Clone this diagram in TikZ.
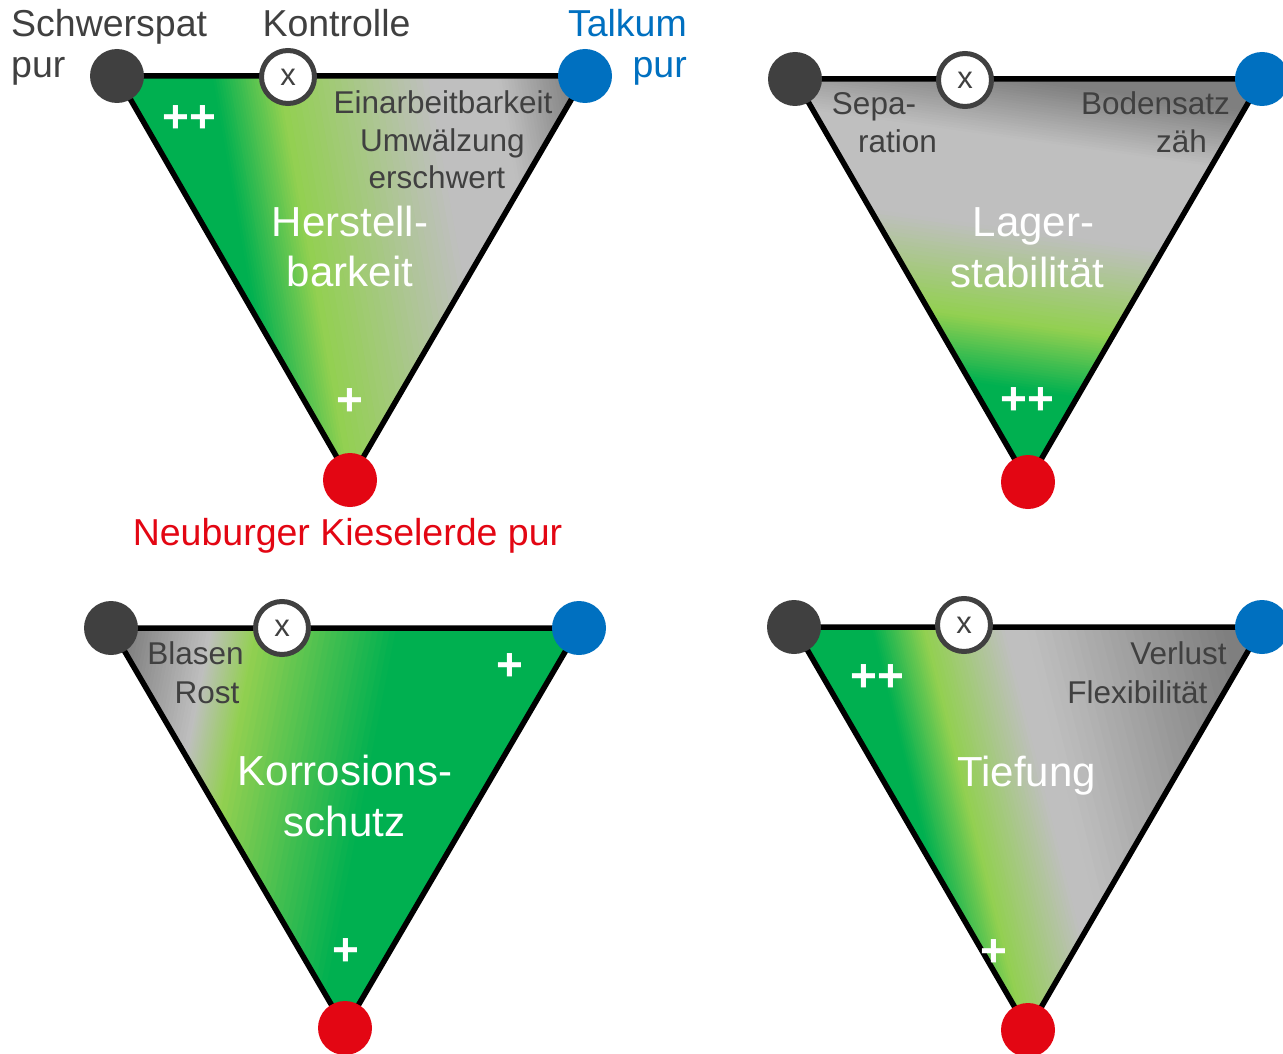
\documentclass[tikz,border=0pt]{standalone}
\usepackage{fontspec}
\setmainfont{Liberation Sans}
\definecolor{cDG}{HTML}{00B050}
\definecolor{cLG}{HTML}{92D050}
\definecolor{cGR}{HTML}{BFBFBF}
\definecolor{cDK}{HTML}{7F7F7F}
\definecolor{cTxt}{HTML}{404040}
\definecolor{cDot}{HTML}{404040}
\definecolor{cBlue}{HTML}{0070C0}
\definecolor{cRed}{HTML}{E30613}
% gradient fill of triangle #1: origin #2, angle #3, first colour #4, stops #5, last t #6, last colour #7
\newcommand\gradtri[7]{%
  \begin{scope}
    \clip (D#1) -- (B#1) -- (R#1) -- cycle;
    \fill[#4] (D#1) -- (B#1) -- (R#1) -- cycle;
    \begin{scope}[shift={#2}, rotate=#3]
      \foreach \ta/\ca/\tb/\cb in {#5}{%
        \foreach \k in {0,...,23}{%
          \pgfmathsetmacro\tlo{\ta+(\tb-\ta)*\k/24}%
          \pgfmathsetmacro\thi{\ta+(\tb-\ta)*(\k+1)/24+1}%
          \pgfmathtruncatemacro\pc{100*(\k+0.5)/24}%
          \fill[\cb!\pc!\ca] (\tlo,-900) rectangle (\thi,900);
        }%
      }%
      \fill[#7] (#6,-900) rectangle (1500,900);
    \end{scope}
  \end{scope}}
\begin{document}
\begin{tikzpicture}[x=1pt,y=-1pt,
  edge/.style={draw=black,line width=5.5pt,line join=round},
  dotdark/.style={circle,fill=cDot,minimum size=54pt,inner sep=0pt},
  dotblue/.style={circle,fill=cBlue,minimum size=54pt,inner sep=0pt},
  dotred/.style={circle,fill=cRed,minimum size=54pt,inner sep=0pt},
  ctrl/.style={circle,draw=cDot,line width=5pt,fill=white,minimum size=53pt,inner sep=0pt,
    text=cTxt,font=\fontsize{31}{36}\selectfont},
  lbl/.style={inner sep=0pt,font=\fontsize{37.5}{42}\selectfont},
  desc/.style={inner sep=0pt,text=cTxt,font=\fontsize{31.5}{38}\selectfont},
  big/.style={inner sep=0pt,text=white,font=\fontsize{42}{50}\selectfont},
  plus/.style={inner sep=0pt,text=white,font=\fontsize{46}{50}\selectfont\bfseries}]
\fill[white] (0,0) rectangle (1283,1054);
\useasboundingbox (0,0) rectangle (1283,1054);

% corners
\coordinate (D1) at (117,76);  \coordinate (B1) at (585,76);  \coordinate (R1) at (350,480);
\coordinate (D2) at (795,79);  \coordinate (B2) at (1262,79); \coordinate (R2) at (1028,482);
\coordinate (D3) at (111,628); \coordinate (B3) at (579,628); \coordinate (R3) at (345,1028);
\coordinate (D4) at (794,627); \coordinate (B4) at (1262,627);\coordinate (R4) at (1028,1030);

% gradients
\gradtri{1}{(215,90)}{10}{cDG}{0/cDG/64/cLG, 64/cLG/212/cGR, 212/cGR/281/cGR, 281/cGR/355/cDK}{355}{cDK}
\gradtri{2}{(1030,80)}{-98}{cDK}{0/cDK/60/cGR, 60/cGR/150/cGR, 150/cGR/243/cLG, 243/cLG/307/cDG}{307}{cDG}
\gradtri{3}{(125,650)}{-11}{cDK}{0/cDK/80/cGR, 80/cGR/125/cLG, 125/cLG/262/cDG}{262}{cDG}
\gradtri{4}{(880,660)}{14}{cDG}{0/cDG/50/cLG, 50/cLG/128/cGR, 128/cGR/150/cGR, 150/cGR/340/cDK}{340}{cDK}

% edges
\draw[edge] (D1) -- (B1) -- (R1) -- cycle;
\draw[edge] (D2) -- (B2) -- (R2) -- cycle;
\draw[edge] (D3) -- (B3) -- (R3) -- cycle;
\draw[edge] (D4) -- (B4) -- (R4) -- cycle;

% corner dots and control circles
\node[dotdark] (d1) at (D1) {}; \node[dotblue] (b1) at (B1) {}; \node[dotred] (r1) at (R1) {};
\node[dotdark] (d2) at (D2) {}; \node[dotblue] (b2) at (B2) {}; \node[dotred] (r2) at (R2) {};
\node[dotdark] (d3) at (D3) {}; \node[dotblue] (b3) at (B3) {}; \node[dotred] (r3) at (R3) {};
\node[dotdark] (d4) at (D4) {}; \node[dotblue] (b4) at (B4) {}; \node[dotred] (r4) at (R4) {};
\node[ctrl] (x1) at (288,77) {x};
\node[ctrl] (x2) at (965,80) {x};
\node[ctrl] (x3) at (282,628) {x};
\node[ctrl] (x4) at (964,625) {x};

% legend labels
\node[lbl,text=cTxt,anchor=base west] (schA) at (11,36.5) {Schwerspat};
\node[lbl,text=cTxt,anchor=base west] (schB) at (11,78) {pur};
\node[lbl,text=cTxt,anchor=base] (kon) at (336.5,36.5) {Kontrolle};
\node[lbl,text=cBlue,anchor=base east] (talA) at (687,36.5) {Talkum};
\node[lbl,text=cBlue,anchor=base east] (talB) at (687,78) {pur};
\node[lbl,text=cRed,anchor=base] (neu) at (347.5,545) {Neuburger Kieselerde pur};

% triangle 1
\node[desc,anchor=base] (t1a) at (443,113.5) {Einarbeitbarkeit};
\node[desc,anchor=base] (t1b) at (442.5,152) {Umwälzung};
\node[desc,anchor=base] (t1c) at (437,189) {erschwert};
\node[big,anchor=base] (t1d) at (350,236) {Herstell-};
\node[big,anchor=base] (t1e) at (350,286) {barkeit};
\node[plus] (p1a) at (189.5,119) {++};
\node[plus] (p1b) at (350,402) {+};

% triangle 2
\node[desc,anchor=base] (t2a) at (874,115) {Sepa-};
\node[desc,anchor=base] (t2b) at (897.5,153) {ration};
\node[desc,anchor=base] (t2c) at (1155.5,115) {Bodensatz};
\node[desc,anchor=base] (t2d) at (1181.5,153) {zäh};
\node[big,anchor=base] (t2e) at (1033.5,236) {Lager-};
\node[big,anchor=base] (t2f) at (1027.5,287) {stabilität};
\node[plus] (p2a) at (1027.5,401) {++};

% triangle 3
\node[desc,anchor=base] (t3a) at (195.5,664) {Blasen};
\node[desc,anchor=base] (t3b) at (207,703) {Rost};
\node[big,anchor=base] (t3c) at (345,785) {Korrosions-};
\node[big,anchor=base] (t3d) at (344.5,836) {schutz};
\node[plus] (p3a) at (510,667) {+};
\node[plus] (p3b) at (346,952) {+};

% triangle 4
\node[desc,anchor=base] (t4a) at (1178.5,664) {Verlust};
\node[desc,anchor=base] (t4b) at (1137.5,703) {Flexibilität};
\node[big,anchor=base] (t4c) at (1026.5,786) {Tiefung};
\node[plus] (p4a) at (877,678) {++};
\node[plus] (p4b) at (994,953) {+};
\end{tikzpicture}
\end{document}
